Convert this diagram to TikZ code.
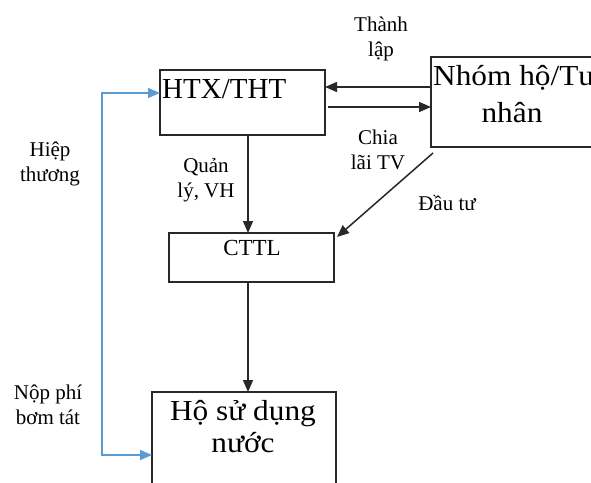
\documentclass[tikz,border=0pt]{standalone}
\usepackage{fontspec}
\setmainfont{Liberation Serif}
\newfontfamily\widefont[FakeStretch=1.08]{Liberation Serif}
\usetikzlibrary{arrows.meta}
\definecolor{lineblue}{RGB}{91,155,213}
\definecolor{boxline}{RGB}{40,40,40}
\tikzset{
  box/.style={draw=boxline, line width=1.4pt, rectangle, inner sep=0pt, outer sep=0pt, anchor=north west},
  bigtxt/.style={font=\fontsize{29}{33}\selectfont, inner sep=0pt},
  widetxt/.style={font=\widefont\fontsize{29}{33}\selectfont, inner sep=0pt},
  smalltxt/.style={font=\fontsize{21}{25.5}\selectfont, align=center, inner sep=0pt},
  arr/.style={draw=boxline, line width=1.5pt, -{Triangle[length=12pt,width=10pt]}},
  bluearr/.style={draw=lineblue, line width=1.5pt, {Triangle[length=12pt,width=10pt]}-{Triangle[length=12pt,width=10pt]}}
}
\begin{document}
\begin{tikzpicture}[x=1pt,y=-1pt]
\useasboundingbox (0,0) rectangle (591,482);
\clip (0,0) rectangle (591,482);
\fill[white] (0,0) rectangle (591,482);
% boxes
\node[box, minimum width=165pt, minimum height=65pt] (htx) at (160,70) {};
\node[box, minimum width=220pt, minimum height=90pt] (nhom) at (431,57) {};
\node[box, minimum width=165pt, minimum height=49pt] (cttl) at (169,233) {};
\node[box, minimum width=184pt, minimum height=130pt] (ho) at (152,392) {};
% box texts
\node[bigtxt, anchor=base west] (htxt) at (162,98) {HTX/THT};
\node[widetxt, anchor=base west] (nhomt1) at (433,85) {Nhóm hộ/Tư};
\node[widetxt, anchor=base] (nhomt2) at (512,122) {nhân};
\node[bigtxt, anchor=base, font=\fontsize{23}{27}\selectfont] (cttlt) at (252,255) {CTTL};
\node[widetxt, anchor=base] (hot1) at (243,420) {Hộ sử dụng};
\node[widetxt, anchor=base] (hot2) at (243,452) {nước};
% labels
\node[smalltxt] (lthanh) at (381,39) {Thành\\lập};
\node[smalltxt] (lchia) at (378,150) {Chia\\lãi TV};
\node[smalltxt] (lquan) at (206,180) {Quản\\lý, VH};
\node[smalltxt, anchor=base] (ldau) at (447,210) {Đầu tư};
\node[smalltxt] (lhiep) at (50,164) {Hiệp\\thương};
\node[smalltxt] (lnop) at (48,405) {Nộp phí\\bơm tát};
% connectors
\draw[arr] (nhom.west |- 0,87) -- (htx.east |- 0,87);
\draw[arr] ([xshift=3pt]htx.east |- 0,107) -- (nhom.west |- 0,107);
\draw[arr] (htx.south -| 248,0) -- (cttl.north -| 248,0);
\draw[arr] (cttl.south -| 248,0) -- (ho.north -| 248,0);
\draw[arr] ([shift={(2,6)}]nhom.south west) -- ([shift={(3,4)}]cttl.north east);
\coordinate (bl1) at (102,455);
\coordinate (bl2) at (102,93);
\draw[bluearr] (ho.west |- bl1) -- (bl1) -- (bl2) -- (htx.west |- bl2);
\end{tikzpicture}
\end{document}
